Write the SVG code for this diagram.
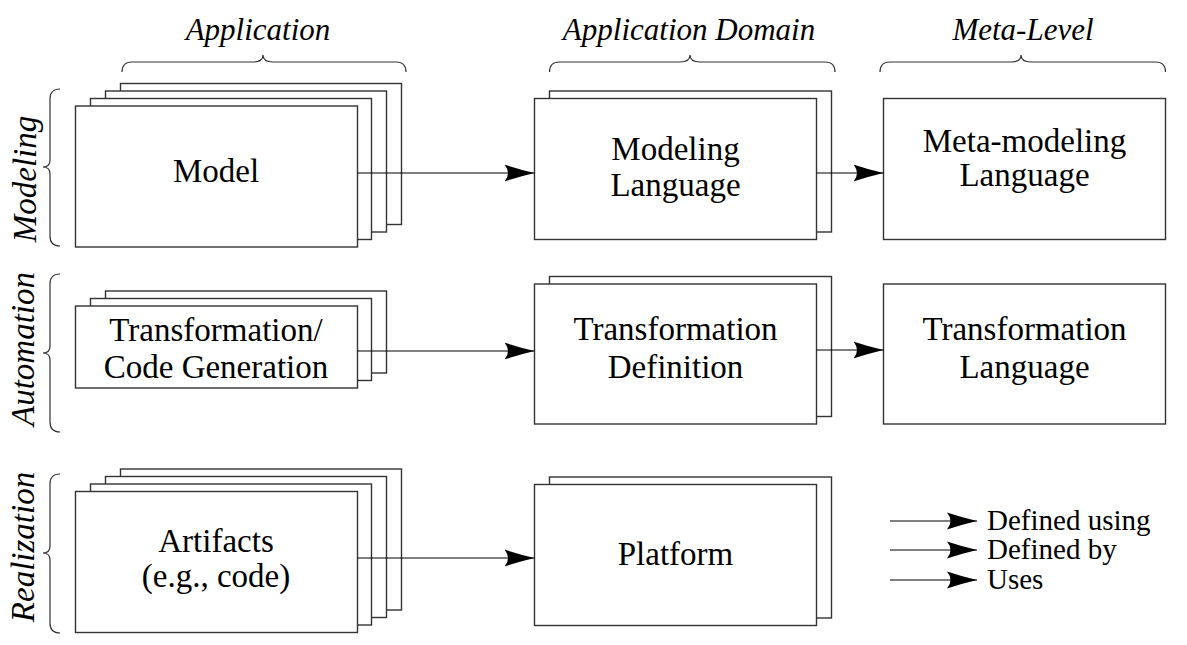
<svg xmlns="http://www.w3.org/2000/svg" width="1187" height="645" viewBox="0 0 1187 645">
<style>
.box{fill:#fff;stroke:#333;stroke-width:1.4}
.t{font-family:"Liberation Serif","Times New Roman","DejaVu Serif",serif;font-size:33px;fill:#000;text-anchor:middle}
.h{font-family:"Liberation Serif","Times New Roman","DejaVu Serif",serif;font-size:31px;font-style:italic;fill:#000;text-anchor:middle}
.r{font-family:"Liberation Serif","Times New Roman","DejaVu Serif",serif;font-size:33px;font-style:italic;fill:#000;text-anchor:middle}
.lg{font-family:"Liberation Serif","Times New Roman","DejaVu Serif",serif;font-size:29px;fill:#000}
.br{fill:none;stroke:#333;stroke-width:1.2}
.c{fill:none;stroke:#000;stroke-width:1.2;marker-end:url(#ah)}
</style>
<defs>
<marker id="ah" markerUnits="userSpaceOnUse" markerWidth="32" markerHeight="20" viewBox="0 -10 32 20" refX="30" refY="0" orient="auto">
<path d="M30,0 Q15,-3.5 0,-8.5 Q7,0 0,8.5 Q15,3.5 30,0 Z" fill="#000"/>
</marker>
</defs>
<g id="headers">
<text class="h" x="258" y="40">Application</text>
<path class="br" d="M122,72 Q122,62 132,62 H253 Q263,62 263,55 Q263,62 273,62 H396 Q406,62 406,72"/>
<text class="h" x="689" y="40">Application Domain</text>
<path class="br" d="M549.5,72 Q549.5,62 559.5,62 H680 Q690,62 690,55 Q690,62 700,62 H825 Q835,62 835,72"/>
<text class="h" x="1023" y="40">Meta-Level</text>
<path class="br" d="M880,72 Q880,62 890,62 H1011 Q1021,62 1021,55 Q1021,62 1031,62 H1155.5 Q1165.5,62 1165.5,72"/>
</g>
<g id="rows">
<text class="r" transform="translate(36,179) rotate(-90)">Modeling</text>
<path class="br" d="M60,89 Q50,89 50,99 V160 Q50,167 43,167 Q50,167 50,174 V236 Q50,246 60,246"/>
<text class="r" transform="translate(34,349) rotate(-90)">Automation</text>
<path class="br" d="M60,274 Q50,274 50,284 V346 Q50,353 43,353 Q50,353 50,360 V422 Q50,432 60,432"/>
<text class="r" transform="translate(34,547) rotate(-90)">Realization</text>
<path class="br" d="M60,474 Q50,474 50,484 V546 Q50,553 43,553 Q50,553 50,560 V623 Q50,633 60,633"/>
</g>
<g id="model">
<rect class="box" x="120.5" y="83.5" width="281" height="141"/>
<rect class="box" x="105.5" y="91" width="281" height="141"/>
<rect class="box" x="90.5" y="98.5" width="281" height="141"/>
<rect class="box" x="75.5" y="106" width="282" height="141"/>
<text class="t" x="216" y="182">Model</text>
</g>
<g id="modeling-language">
<rect class="box" x="549.5" y="91" width="282" height="141"/>
<rect class="box" x="534.5" y="98.5" width="282" height="141"/>
<text class="t" x="675.5" y="160">Modeling</text>
<text class="t" x="675.5" y="196">Language</text>
</g>
<g id="meta-modeling-language">
<rect class="box" x="883.5" y="98.5" width="282" height="141"/>
<text class="t" x="1024.5" y="152">Meta-modeling</text>
<text class="t" x="1024.5" y="186">Language</text>
</g>
<g id="transformation">
<rect class="box" x="105.5" y="291" width="281" height="82"/>
<rect class="box" x="90.5" y="298.5" width="281" height="82"/>
<rect class="box" x="75.5" y="306" width="282" height="82"/>
<text class="t" x="216" y="341">Transformation/</text>
<text class="t" x="216" y="378">Code Generation</text>
</g>
<g id="transformation-definition">
<rect class="box" x="549.5" y="276.5" width="282" height="140"/>
<rect class="box" x="534.5" y="284" width="282" height="140"/>
<text class="t" x="675.5" y="340">Transformation</text>
<text class="t" x="675.5" y="378">Definition</text>
</g>
<g id="transformation-language">
<rect class="box" x="883.5" y="284" width="282" height="140"/>
<text class="t" x="1024.5" y="340">Transformation</text>
<text class="t" x="1024.5" y="378">Language</text>
</g>
<g id="artifacts">
<rect class="box" x="120.5" y="469" width="281" height="141"/>
<rect class="box" x="105.5" y="476.5" width="281" height="141"/>
<rect class="box" x="90.5" y="484" width="281" height="141"/>
<rect class="box" x="75.5" y="491.5" width="282" height="141"/>
<text class="t" x="216" y="552">Artifacts</text>
<text class="t" x="216" y="587">(e.g., code)</text>
</g>
<g id="platform">
<rect class="box" x="549.5" y="477" width="282" height="141"/>
<rect class="box" x="534.5" y="484.5" width="282" height="141"/>
<text class="t" x="675.5" y="565">Platform</text>
</g>
<g id="connectors">
<path class="c" d="M357.5,173 H534.5"/>
<path class="c" d="M816.5,173 H883.5"/>
<path class="c" d="M357.5,351 H534.5"/>
<path class="c" d="M816.5,350 H883.5"/>
<path class="c" d="M357.5,558 H534.5"/>
</g>
<g id="legend">
<path class="c" d="M890,521 H977"/>
<text class="lg" x="987" y="530">Defined using</text>
<path class="c" d="M890,550 H977"/>
<text class="lg" x="987" y="559">Defined by</text>
<path class="c" d="M890,580 H977"/>
<text class="lg" x="987" y="589">Uses</text>
</g>
</svg>
